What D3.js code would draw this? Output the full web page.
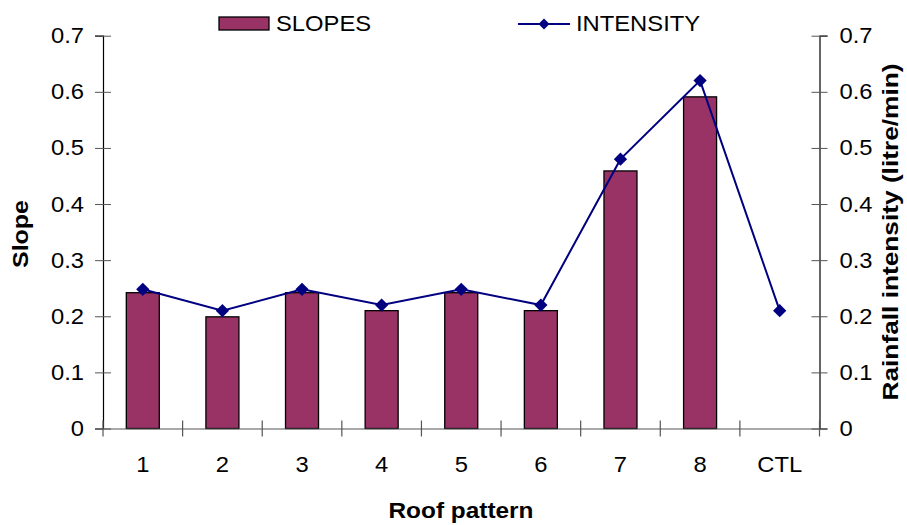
<!DOCTYPE html>
<html><head><meta charset="utf-8">
<script src="https://cdn.jsdelivr.net/npm/d3@7"></script>
<style>body{margin:0;background:#fff}svg{display:block}text{font-family:"Liberation Sans",Arial,sans-serif}</style>
</head><body>
<svg id="c" width="907" height="525"></svg>
<script>
const categories = ["1","2","3","4","5","6","7","8","CTL"];
const slopes = [0.242,0.199,0.242,0.21,0.242,0.21,0.459,0.591,null];
const intensity = [0.248,0.21,0.248,0.22,0.248,0.22,0.48,0.62,0.21];
const yTicks = [0,0.1,0.2,0.3,0.4,0.5,0.6,0.7];

const svg = d3.select("#c");
const L=103,R=819.5,T=35.7,B=428.5;
const FS=22;
const xb = d3.scaleBand().domain(categories).range([L,R]);
const y = d3.scaleLinear().domain([0,0.7]).range([B,T]);
const y2 = d3.scaleLinear().domain([0,0.7]).range([B,T]);

// bars
svg.selectAll("rect.bar").data(categories.map((c,i)=>({c,v:slopes[i]})).filter(d=>d.v!=null))
 .enter().append("rect").attr("x",d=>xb(d.c)+xb.bandwidth()/2-16.5).attr("width",33)
 .attr("y",d=>y(d.v)).attr("height",d=>B-y(d.v))
 .attr("fill","#993366").attr("stroke","#000").attr("stroke-width",1.3);

// axes
const fmt = d=>d===0?"0":d3.format(".1f")(d);
const gl = svg.append("g").attr("transform",`translate(${L},0)`).call(d3.axisLeft(y).tickValues(yTicks).tickFormat(fmt).tickSize(8).tickPadding(11));
const gr = svg.append("g").attr("transform",`translate(${R},0)`).call(d3.axisRight(y2).tickValues(yTicks).tickFormat(fmt).tickSize(8).tickPadding(12));
const gx = svg.append("g").attr("transform",`translate(0,${B})`).call(d3.axisBottom(xb).tickSize(0).tickPadding(28));
[gl,gr,gx].forEach(g=>{g.select(".domain").attr("stroke","#000").attr("stroke-width",1.2);g.selectAll("text").attr("font-size",FS).attr("fill","#000").attr("font-family","Liberation Sans, Arial, sans-serif");});
gl.selectAll(".tick line").attr("x2",-8).attr("x1",8).attr("stroke","#555");
gr.selectAll(".tick line").attr("x1",-8).attr("x2",8).attr("stroke","#555");
gx.select(".domain").attr("stroke","#555");
const bounds = categories.map(c=>xb(c)).concat([R]);
svg.append("g").selectAll("line").data(bounds).enter().append("line")
 .attr("x1",d=>d).attr("x2",d=>d).attr("y1",B-8).attr("y2",B+8).attr("stroke","#555").attr("stroke-width",1.2);

// line
const pts = categories.map((c,i)=>[xb(c)+xb.bandwidth()/2, y2(intensity[i])]);
svg.append("path").attr("d",d3.line()(pts)).attr("fill","none").attr("stroke","#000080").attr("stroke-width",2);
const diamond = d3.symbol().type(d3.symbolSquare).size(88);
svg.selectAll("path.pt").data(pts).enter().append("path").attr("d",diamond)
 .attr("transform",d=>`translate(${d[0]},${d[1]}) rotate(45)`).attr("fill","#000080");

// titles
const titles = [];
titles.push(svg.append("text").attr("x",461).attr("y",518).attr("text-anchor","middle").attr("font-size",FS).attr("font-weight","bold").text("Roof pattern").attr("data-len",145));
titles.push(svg.append("text").attr("transform","translate(28,234) rotate(-90)").attr("text-anchor","middle").attr("font-size",FS).attr("font-weight","bold").text("Slope").attr("data-len",68));
titles.push(svg.append("text").attr("transform","translate(898,232) rotate(-90)").attr("text-anchor","middle").attr("font-size",FS).attr("font-weight","bold").text("Rainfall intensity (litre/min)").attr("data-len",337));

// legend
svg.append("rect").attr("x",219).attr("y",17).attr("width",50).attr("height",13).attr("fill","#993366").attr("stroke","#000").attr("stroke-width",1.3);
svg.append("text").attr("x",276).attr("y",31).attr("font-size",FS).text("SLOPES");
svg.append("line").attr("x1",518).attr("x2",570).attr("y1",24).attr("y2",24).attr("stroke","#000080").attr("stroke-width",2);
svg.append("path").attr("d",d3.symbol().type(d3.symbolSquare).size(60)).attr("transform","translate(544,24) rotate(45)").attr("fill","#000080");
svg.append("text").attr("x",576).attr("y",31).attr("font-size",FS).text("INTENSITY");

// horizontal stretch of glyphs to match reference
svg.selectAll("text").each(function(){
  const s=d3.select(this);
  const fixed=s.attr("data-len");
  const w=fixed?+fixed:this.getComputedTextLength()*1.08;
  s.attr("textLength",w).attr("lengthAdjust","spacingAndGlyphs");
});
</script>
</body></html>
